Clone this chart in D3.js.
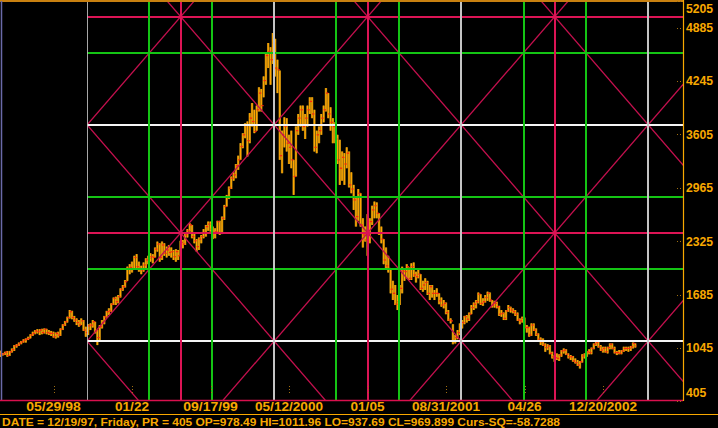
<!DOCTYPE html>
<html><head><meta charset="utf-8">
<script src="https://cdn.jsdelivr.net/npm/d3@7"></script>
<style>html,body{margin:0;padding:0;background:#000;overflow:hidden}</style>
</head><body>
<svg id="c" width="718" height="428"></svg>
<script>
// ---- data (weekly bars, first bar = week ending 12/19/97) ----
const firstBarDate = "1997-12-19";
const highs = [1012,985,1000,1010,1010,1040,1080,1090,1110,1130,1150,1160,1180,1210,1240,1260,1270,1270,1275,1280,1275,1260,1250,1240,1230,1240,1280,1330,1370,1420,1500,1490,1430,1400,1380,1400,1380,1300,1330,1340,1380,1360,1260,1320,1380,1430,1490,1520,1580,1650,1660,1680,1760,1800,1860,2020,2050,2080,2150,2170,2080,2030,2070,2120,2150,2180,2170,2250,2320,2300,2320,2300,2260,2280,2250,2220,2230,2220,2330,2340,2420,2470,2540,2520,2420,2350,2370,2400,2470,2520,2560,2560,2500,2480,2570,2570,2620,2760,2880,2980,3100,3150,3250,3350,3500,3620,3740,3760,3860,3980,3900,3950,4170,4150,4300,4580,4700,4650,4820,4750,4500,4370,3650,3810,3800,3600,3650,3300,3700,3850,3950,3950,3850,3950,4050,4050,3900,3650,3700,3850,3950,4160,4100,3930,3800,3750,3600,3540,3400,3380,3450,3400,3150,3000,2850,2950,2900,2600,2500,2650,2600,2750,2800,2790,2660,2500,2350,2250,2150,2000,1850,1800,1680,1800,2020,2000,2050,2010,2060,2070,1960,1990,1930,1850,1880,1850,1800,1800,1740,1760,1700,1650,1620,1590,1500,1400,1330,1200,1260,1340,1380,1430,1440,1470,1560,1590,1620,1710,1690,1640,1680,1720,1710,1620,1610,1600,1550,1500,1470,1500,1560,1540,1520,1500,1470,1400,1420,1410,1320,1300,1340,1340,1280,1220,1170,1160,1100,1090,1080,1000,960,980,970,1020,1040,1030,980,960,950,920,900,890,970,980,1010,1030,1050,1100,1130,1120,1080,1060,1060,1060,1100,1100,1060,1010,1020,1020,1060,1060,1060,1070,1110,1100];
const lows = [938,955,960,940,950,990,1010,1050,1070,1090,1110,1110,1140,1160,1190,1210,1220,1200,1210,1220,1210,1200,1190,1170,1160,1170,1190,1260,1310,1350,1400,1390,1360,1320,1300,1320,1250,1180,1200,1260,1290,1220,1080,1140,1280,1330,1410,1440,1480,1560,1560,1580,1650,1730,1770,1850,1930,1950,2000,2000,1960,1930,1960,2000,2050,2080,2060,2130,2200,2080,2100,2150,2130,2150,2130,2100,2080,2100,2150,2240,2280,2370,2440,2360,2300,2200,2220,2300,2360,2380,2450,2440,2350,2360,2420,2400,2410,2580,2740,2830,2950,3050,3080,3180,3300,3440,3560,3340,3500,3700,3620,3650,3880,3880,4050,4200,4400,4200,4450,4300,4100,3300,3140,3450,3400,3250,3200,2880,3100,3600,3700,3650,3550,3700,3850,3800,3400,3380,3500,3600,3750,3880,3800,3650,3500,3500,3250,3000,3050,3000,3200,2970,2900,2700,2500,2570,2500,2250,2320,2150,2300,2520,2600,2600,2400,2300,2050,1980,1950,1700,1620,1560,1500,1560,1700,1850,1880,1860,1860,1900,1830,1880,1740,1720,1740,1680,1620,1650,1620,1660,1570,1540,1520,1450,1370,1340,1090,1100,1150,1200,1280,1330,1350,1370,1450,1500,1520,1580,1560,1550,1590,1610,1600,1530,1530,1520,1430,1420,1380,1380,1480,1470,1460,1430,1370,1330,1350,1280,1230,1180,1190,1250,1190,1130,1080,1070,1000,1020,970,920,880,900,890,940,980,960,920,900,880,860,830,800,870,920,940,970,970,1030,1070,1050,1010,990,990,980,1030,1030,980,960,970,970,1000,1010,1000,1010,1040,1050];
const closes = [970,975,995,955,1000,1025,1070,1080,1100,1120,1140,1150,1160,1200,1220,1250,1240,1260,1230,1270,1230,1220,1220,1180,1220,1200,1270,1320,1360,1410,1480,1410,1380,1350,1320,1370,1260,1230,1310,1320,1360,1250,1170,1300,1350,1420,1480,1490,1570,1640,1600,1660,1750,1780,1840,2000,2010,1990,2130,2020,2000,1980,2040,2100,2120,2140,2130,2230,2290,2130,2280,2180,2220,2190,2200,2140,2200,2150,2310,2290,2400,2450,2520,2380,2330,2260,2350,2380,2430,2500,2530,2470,2420,2440,2560,2420,2600,2740,2860,2960,3080,3120,3230,3300,3460,3600,3710,3530,3800,3760,3640,3900,4100,3950,4250,4550,4600,4500,4700,4400,4380,3350,3600,3700,3500,3450,3300,3100,3650,3800,3900,3700,3800,3900,4000,3850,3450,3600,3650,3800,3900,4100,3850,3750,3700,3550,3300,3200,3330,3250,3380,3000,2950,2820,2620,2900,2520,2400,2340,2400,2560,2700,2750,2660,2420,2350,2100,2030,2000,1750,1700,1570,1600,1760,1970,1960,2020,1880,2020,1920,1900,1930,1760,1800,1830,1700,1780,1700,1700,1700,1610,1560,1580,1470,1380,1370,1130,1170,1230,1320,1350,1420,1390,1450,1530,1570,1600,1690,1580,1600,1650,1700,1620,1560,1580,1540,1450,1460,1400,1490,1530,1500,1480,1450,1380,1370,1400,1290,1290,1200,1320,1260,1210,1150,1120,1080,1050,1070,980,940,930,920,960,1010,1020,970,940,940,890,870,840,880,950,970,1000,990,1040,1090,1110,1060,1020,1040,1000,1050,1090,1040,990,990,980,1010,1040,1040,1040,1060,1100,1070];
const opens = [978,970,975,995,955,1000,1025,1070,1080,1100,1120,1140,1150,1160,1200,1220,1250,1240,1260,1230,1270,1230,1220,1220,1180,1220,1200,1270,1320,1360,1410,1480,1410,1380,1350,1320,1370,1260,1230,1310,1320,1360,1250,1170,1300,1350,1420,1480,1490,1570,1640,1600,1660,1750,1780,1840,2000,2010,1990,2130,2020,2000,1980,2040,2100,2120,2140,2130,2230,2290,2130,2280,2180,2220,2190,2200,2140,2200,2150,2310,2290,2400,2450,2520,2380,2330,2260,2350,2380,2430,2500,2530,2470,2420,2440,2560,2420,2600,2740,2860,2960,3080,3120,3230,3300,3460,3600,3710,3530,3800,3760,3640,3900,4100,3950,4250,4550,4600,4500,4700,4400,4380,3350,3600,3700,3500,3450,3300,3100,3650,3800,3900,3700,3800,3900,4000,3850,3450,3600,3650,3800,3900,4100,3850,3750,3700,3550,3300,3200,3330,3250,3380,3000,2950,2820,2620,2900,2520,2400,2340,2400,2560,2700,2750,2660,2420,2350,2100,2030,2000,1750,1700,1570,1600,1760,1970,1960,2020,1880,2020,1920,1900,1930,1760,1800,1830,1700,1780,1700,1700,1700,1610,1560,1580,1470,1380,1370,1130,1170,1230,1320,1350,1420,1390,1450,1530,1570,1600,1690,1580,1600,1650,1700,1620,1560,1580,1540,1450,1460,1400,1490,1530,1500,1480,1450,1380,1370,1400,1290,1290,1200,1320,1260,1210,1150,1120,1080,1050,1070,980,940,930,920,960,1010,1020,970,940,940,890,870,840,880,950,970,1000,990,1040,1090,1110,1060,1020,1040,1000,1050,1090,1040,990,990,980,1010,1040,1040,1040,1060,1100];

const priceTicks = [5205,4885,4245,3605,2965,2325,1685,1045,405];
const dateTicks = ["1998-05-29","1999-01-22","1999-09-17","2000-05-12","2001-01-05","2001-08-31","2002-04-26","2002-12-20"];
const dateTickLabels = ["05/29/98","01/22","09/17/99","05/12/2000","01/05","08/31/2001","04/26","12/20/2002"];
// Gann square grid
const gridStartDate = "1998-09-08";
const gridWeeks = 81;
const gridBasePrice = 1128;
const gridPriceStep = 2592;
const gridFractions = [0, 1/3, 1/2, 2/3];
const gridKinds = ["main","third","half","third"];
const statusText = "DATE = 12/19/97, Friday, PR = 405 OP=978.49 HI=1011.96 LO=937.69 CL=969.899 Curs-SQ=-58.7288";

// ---- layout ----
const W = 718, H = 428;
const plot = {left: 0, right: 683, top: 1, bottom: 400};
const ORANGE = "#f8a800";
const FONT = "'Liberation Sans', Arial, sans-serif";
const colors = {mainV: "#c4c4c4", mainH: "#f4f4f4", third: "#14c414", half: "#dc1455", diag: "#c4104e"};
const parse = d3.utcParse("%Y-%m-%d");
const WEEK = 7 * 24 * 3600 * 1000;

const x = d3.scaleUtc()
  .domain([parse(firstBarDate), parse("2002-12-20")])
  .range([0.4, 603]);
const y = d3.scaleLinear().domain([405, 5205]).range([401.4, 0.9]);

const svg = d3.select("#c");
svg.append("rect").attr("width", W).attr("height", H).attr("fill", "#000");

svg.append("defs").append("clipPath").attr("id", "plotclip")
  .append("rect").attr("x", plot.left).attr("y", plot.top)
  .attr("width", plot.right - plot.left).attr("height", plot.bottom - plot.top);

const gStart = parse(gridStartDate).getTime();
const gx0 = x(new Date(gStart));
svg.select("defs").append("clipPath").attr("id", "gridclip")
  .append("rect").attr("x", gx0).attr("y", plot.top)
  .attr("width", plot.right - gx0).attr("height", plot.bottom - plot.top);

// ---- bars ----
const bars = highs.map((h, i) => ({
  date: new Date(parse(firstBarDate).getTime() + i * WEEK),
  o: opens[i], h: h, l: lows[i], c: closes[i]
}));
const gb = svg.append("g").attr("clip-path", "url(#plotclip)");
gb.selectAll("rect.body").data(bars).join("rect")
  .attr("x", d => x(d.date) - 1.2).attr("width", 2.4)
  .attr("y", d => y(d.h)).attr("height", d => Math.max(1, y(d.l) - y(d.h)))
  .attr("fill", "#a27812");
gb.selectAll("line.hl").data(bars).join("line")
  .attr("x1", d => x(d.date)).attr("x2", d => x(d.date))
  .attr("y1", d => y(d.h)).attr("y2", d => y(d.l))
  .attr("stroke", "#ffa600").attr("stroke-width", 1.3);
gb.selectAll("rect.op").data(bars).join("rect")
  .attr("x", d => x(d.date) - 1.2).attr("width", 1.2)
  .attr("y", d => y(d.o) - 0.6).attr("height", 1.2).attr("fill", "#ff2010");
gb.selectAll("rect.cl").data(bars).join("rect")
  .attr("x", d => x(d.date)).attr("width", 1.2)
  .attr("y", d => y(d.c) - 0.6).attr("height", 1.2).attr("fill", "#ff2010");

// ---- Gann grid ----
const gg = svg.append("g").attr("clip-path", "url(#gridclip)");
const gridEnd = x.invert(plot.right).getTime();
const nSq = Math.ceil((gridEnd - gStart) / (gridWeeks * WEEK)) + 1;
for (let n = -nSq - 2; n <= nSq + 2; n++) {
  [1, -1].forEach(s => {
    const p0 = gridBasePrice + n * gridPriceStep;
    const p1 = p0 + s * nSq * gridPriceStep;
    gg.append("line")
      .attr("x1", x(new Date(gStart))).attr("y1", y(p0))
      .attr("x2", x(new Date(gStart + nSq * gridWeeks * WEEK))).attr("y2", y(p1))
      .attr("stroke", colors.diag).attr("stroke-width", 1.3);
  });
}
const hLines = [];
for (let k = -2; k <= 2; k++) gridFractions.forEach((f, j) => {
  const p = gridBasePrice + (k + f) * gridPriceStep;
  if (y(p) >= plot.top && y(p) <= plot.bottom) hLines.push({p, kind: gridKinds[j]});
});
gg.selectAll("line.h").data(hLines).join("line")
  .attr("x1", gx0).attr("x2", plot.right)
  .attr("y1", d => Math.round(y(d.p))).attr("y2", d => Math.round(y(d.p)))
  .attr("stroke", d => d.kind === "main" ? colors.mainH : colors[d.kind])
  .attr("stroke-width", 2);
const vLines = [];
for (let k = 0; k <= nSq; k++) gridFractions.forEach((f, j) => {
  const t = new Date(gStart + (k + f) * gridWeeks * WEEK);
  if (x(t) <= plot.right) vLines.push({t, kind: gridKinds[j]});
});
gg.selectAll("line.v").data(vLines).join("line")
  .attr("x1", d => Math.round(x(d.t))).attr("x2", d => Math.round(x(d.t)))
  .attr("y1", plot.top).attr("y2", plot.bottom)
  .attr("stroke", d => d.kind === "main" ? colors.mainV : colors[d.kind])
  .attr("stroke-width", 2);

// ---- frame ----
svg.append("line").attr("x1", 0).attr("x2", plot.right + 1).attr("y1", 1).attr("y2", 1)
  .attr("stroke", "#c88010").attr("stroke-width", 2);
svg.append("line").attr("x1", 1.5).attr("x2", 1.5).attr("y1", plot.top).attr("y2", plot.bottom)
  .attr("stroke", "#6a6aa8").attr("stroke-width", 1.5);
svg.append("line").attr("x1", 0).attr("x2", plot.right).attr("y1", plot.bottom + 0.5).attr("y2", plot.bottom + 0.5)
  .attr("stroke", "#d8104e").attr("stroke-width", 1.5);
svg.append("line").attr("x1", plot.right + 0.5).attr("x2", plot.right + 0.5).attr("y1", 0).attr("y2", plot.bottom + 1)
  .attr("stroke", ORANGE).attr("stroke-width", 1.2);
svg.append("line").attr("x1", 0).attr("x2", W).attr("y1", 414.5).attr("y2", 414.5)
  .attr("stroke", ORANGE).attr("stroke-width", 1.2);

// ---- right axis ----
const ga = svg.append("g");
ga.selectAll("line.tk").data(priceTicks).join("line")
  .attr("x1", plot.right - 6).attr("x2", plot.right - 2)
  .attr("y1", d => Math.round(y(d)) + 0.5).attr("y2", d => Math.round(y(d)) + 0.5)
  .attr("stroke", "#a07010").attr("stroke-width", 1).attr("stroke-dasharray", "1,2");
ga.selectAll("text").data(priceTicks).join("text")
  .attr("x", plot.right + 3)
  .attr("y", d => Math.max(9, Math.min(393, y(d))))
  .attr("dy", "0.36em")
  .attr("fill", ORANGE)
  .attr("font-family", FONT).attr("font-weight", "bold")
  .attr("font-size", 12.2)
  .text(d => d);

// ---- bottom date axis ----
const gd = svg.append("g");
const dt = dateTicks.map((d, i) => ({date: parse(d), label: dateTickLabels[i]}));
gd.selectAll("line.dtk").data(dt).join("line")
  .attr("x1", d => Math.round(x(d.date)) + 0.5).attr("x2", d => Math.round(x(d.date)) + 0.5)
  .attr("y1", 386).attr("y2", 394)
  .attr("stroke", "#a07010").attr("stroke-width", 1).attr("stroke-dasharray", "1,2");
gd.selectAll("text").data(dt).join("text")
  .attr("x", d => x(d.date)).attr("y", 407).attr("dy", "0.36em")
  .attr("text-anchor", "middle")
  .attr("fill", ORANGE)
  .attr("font-family", FONT).attr("font-weight", "bold")
  .attr("font-size", 12)
  .attr("textLength", d => d.label.length * 6.8).attr("lengthAdjust", "spacingAndGlyphs")
  .text(d => d.label);

// ---- status line ----
svg.append("text").attr("x", 2).attr("y", 421.5).attr("dy", "0.36em")
  .attr("fill", ORANGE)
  .attr("font-family", FONT).attr("font-weight", "bold")
  .attr("font-size", 11.5)
  .attr("textLength", 558).attr("lengthAdjust", "spacingAndGlyphs")
  .text(statusText);
</script>
</body></html>
